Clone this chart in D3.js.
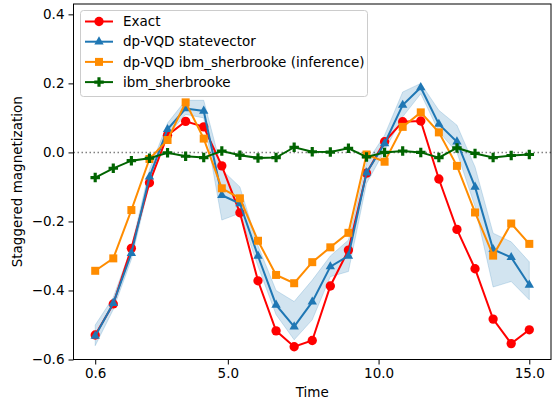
<!DOCTYPE html>
<html>
<head>
<meta charset="utf-8">
<script src="https://cdn.jsdelivr.net/npm/d3@7"></script>
<style>
  body { margin: 0; background: #fff; }
  svg { font-family: "DejaVu Sans", sans-serif; }
</style>
</head>
<body>
<div id="chart"></div>
<script>
// Time points
const times = [0.6, 1.2, 1.8, 2.4, 3.0, 3.6, 4.2, 4.8, 5.4, 6.0, 6.6, 7.2, 7.8,
    8.4, 9.0, 9.6, 10.2, 10.8, 11.4, 12.0, 12.6, 13.2, 13.8, 14.4, 15.0];

// Series values
const exact = [-0.529, -0.439, -0.278, -0.088, 0.05, 0.09, 0.074, -0.039, -0.175, -0.372,
    -0.517, -0.563, -0.545, -0.387, -0.283, -0.06, 0.031, 0.089, 0.091, -0.077,
    -0.223, -0.337, -0.483, -0.554, -0.514];
const statevector = [-0.532, -0.437, -0.292, -0.071, 0.067, 0.127, 0.12, -0.124, -0.148, -0.30,
    -0.442, -0.505, -0.433, -0.331, -0.30, -0.059, 0.026, 0.137, 0.188, 0.082,
    0.031, -0.10, -0.281, -0.304, -0.384];
const svLower = [-0.56, -0.455, -0.31, -0.09, 0.05, 0.11, 0.10, -0.196, -0.176, -0.33,
    -0.47, -0.543, -0.485, -0.36, -0.345, -0.09, 0.005, 0.103, 0.17, 0.06,
    0.0, -0.157, -0.39, -0.374, -0.427];
const svUpper = [-0.50, -0.42, -0.275, -0.05, 0.085, 0.151, 0.151, -0.05, -0.10, -0.27,
    -0.40, -0.432, -0.37, -0.30, -0.254, -0.03, 0.05, 0.175, 0.20, 0.122,
    0.079, -0.042, -0.234, -0.259, -0.317];
const sherbrookeInf = [-0.343, -0.307, -0.167, -0.019, 0.036, 0.145, 0.04, -0.104, -0.133, -0.256,
    -0.355, -0.379, -0.318, -0.275, -0.233, -0.006, -0.027, 0.074, 0.116, 0.058,
    -0.039, -0.174, -0.299, -0.206, -0.265];
const sherbrooke = [-0.073, -0.046, -0.024, -0.017, -0.001, -0.011, -0.015, 0.004, -0.008, -0.016,
    -0.015, 0.015, 0.002, 0.001, 0.012, -0.013, 0, 0.004, 0, -0.015,
    0.013, -0.003, -0.015, -0.009, -0.006];

// Tick labels
const xTicks = [0.6, 5.0, 10.0, 15.0];
const yTicks = [-0.6, -0.4, -0.2, 0.0, 0.2, 0.4];

const series = [
    { name: "Exact", values: exact, color: "#ff0000", symbol: d3.symbolCircle, size: 68 },
    { name: "dp-VQD statevector", values: statevector, color: "#1f77b4", symbol: d3.symbolTriangle, size: 38 },
    { name: "dp-VQD ibm_sherbrooke (inference)", values: sherbrookeInf, color: "#ff8c00", symbol: d3.symbolSquare, size: 64 },
    { name: "ibm_sherbrooke", values: sherbrooke, color: "#006400", symbol: d3.symbolCross, size: 50 }
];

// Chart dimensions
const width = 552;
const height = 401;
const marginLeft = 73.5;
const marginRight = 1;
const marginTop = 4;
const marginBottom = 41.5;

const svg = d3.create("svg")
    .attr("width", width)
    .attr("height", height);
chart.append(svg.node());

const x = d3.scaleLinear()
    .domain([-0.12, 15.72])
    .range([marginLeft, width - marginRight]);

const y = d3.scaleLinear()
    .domain([-0.6, 0.43])
    .range([height - marginBottom, marginTop]);

// Zero reference line
svg.append("line")
    .attr("x1", marginLeft).attr("x2", width - marginRight)
    .attr("y1", y(0)).attr("y2", y(0))
    .attr("stroke", "#808080")
    .attr("stroke-width", 1.5)
    .attr("stroke-dasharray", "1.5,2.5");

// Shaded band for statevector
const area = d3.area()
    .x((d, i) => x(times[i]))
    .y0((d, i) => y(svLower[i]))
    .y1((d, i) => y(svUpper[i]));
svg.append("path")
    .attr("d", area(times))
    .attr("fill", "#1f77b4")
    .attr("fill-opacity", 0.2)
    .attr("stroke", "#1f77b4")
    .attr("stroke-opacity", 0.2);

const line = d3.line()
    .x(d => x(d[0]))
    .y(d => y(d[1]));

series.forEach(s => {
    const pts = times.map((t, i) => [t, s.values[i]]);
    svg.append("path")
        .attr("d", line(pts))
        .attr("fill", "none")
        .attr("stroke", s.color)
        .attr("stroke-width", 2);
    svg.append("g")
        .selectAll("path")
        .data(pts)
        .join("path")
        .attr("transform", d => `translate(${x(d[0])},${y(d[1])})`)
        .attr("d", d3.symbol(s.symbol, s.size))
        .attr("fill", s.color);
});

// Axes
const fmt = d => d3.format(".1f")(d).replace("-", "\u2212");
const gx = svg.append("g")
    .attr("transform", `translate(0,${height - marginBottom})`)
    .call(d3.axisBottom(x).tickValues(xTicks).tickFormat(fmt).tickSize(5).tickPadding(4));
const gy = svg.append("g")
    .attr("transform", `translate(${marginLeft},0)`)
    .call(d3.axisLeft(y).tickValues(yTicks).tickFormat(fmt).tickSize(5).tickPadding(4));
[gx, gy].forEach(g => {
    g.selectAll("text").attr("font-size", 13.5).attr("fill", "#000").attr("font-family", "DejaVu Sans");
    g.selectAll("line").attr("stroke", "#000");
    g.select(".domain").remove();
});

// Frame
svg.append("rect")
    .attr("x", marginLeft).attr("y", marginTop)
    .attr("width", width - marginRight - marginLeft)
    .attr("height", height - marginBottom - marginTop)
    .attr("fill", "none")
    .attr("stroke", "#000")
    .attr("stroke-width", 1);

// Axis titles
svg.append("text")
    .attr("x", (marginLeft + width - marginRight) / 2)
    .attr("y", 397)
    .attr("text-anchor", "middle")
    .attr("font-size", 13.5)
    .text("Time");
svg.append("text")
    .attr("transform", "rotate(-90)")
    .attr("x", -(marginTop + height - marginBottom) / 2)
    .attr("y", 22)
    .attr("text-anchor", "middle")
    .attr("font-size", 13.5)
    .text("Staggered magnetization");

// Legend
const legend = svg.append("g");
legend.append("rect")
    .attr("x", 80.5).attr("y", 10.5)
    .attr("width", 287).attr("height", 86)
    .attr("rx", 3)
    .attr("fill", "#fff").attr("fill-opacity", 0.8)
    .attr("stroke", "#cccccc");
series.forEach((s, i) => {
    const ly = 21.5 + i * 20.2;
    legend.append("line")
        .attr("x1", 85).attr("x2", 113)
        .attr("y1", ly).attr("y2", ly)
        .attr("stroke", s.color).attr("stroke-width", 2);
    legend.append("path")
        .attr("transform", `translate(99,${ly})`)
        .attr("d", d3.symbol(s.symbol, s.size))
        .attr("fill", s.color);
    legend.append("text")
        .attr("x", 123).attr("y", ly)
        .attr("dy", "0.35em")
        .attr("font-size", 13.5)
        .text(s.name);
});
</script>
</body>
</html>
